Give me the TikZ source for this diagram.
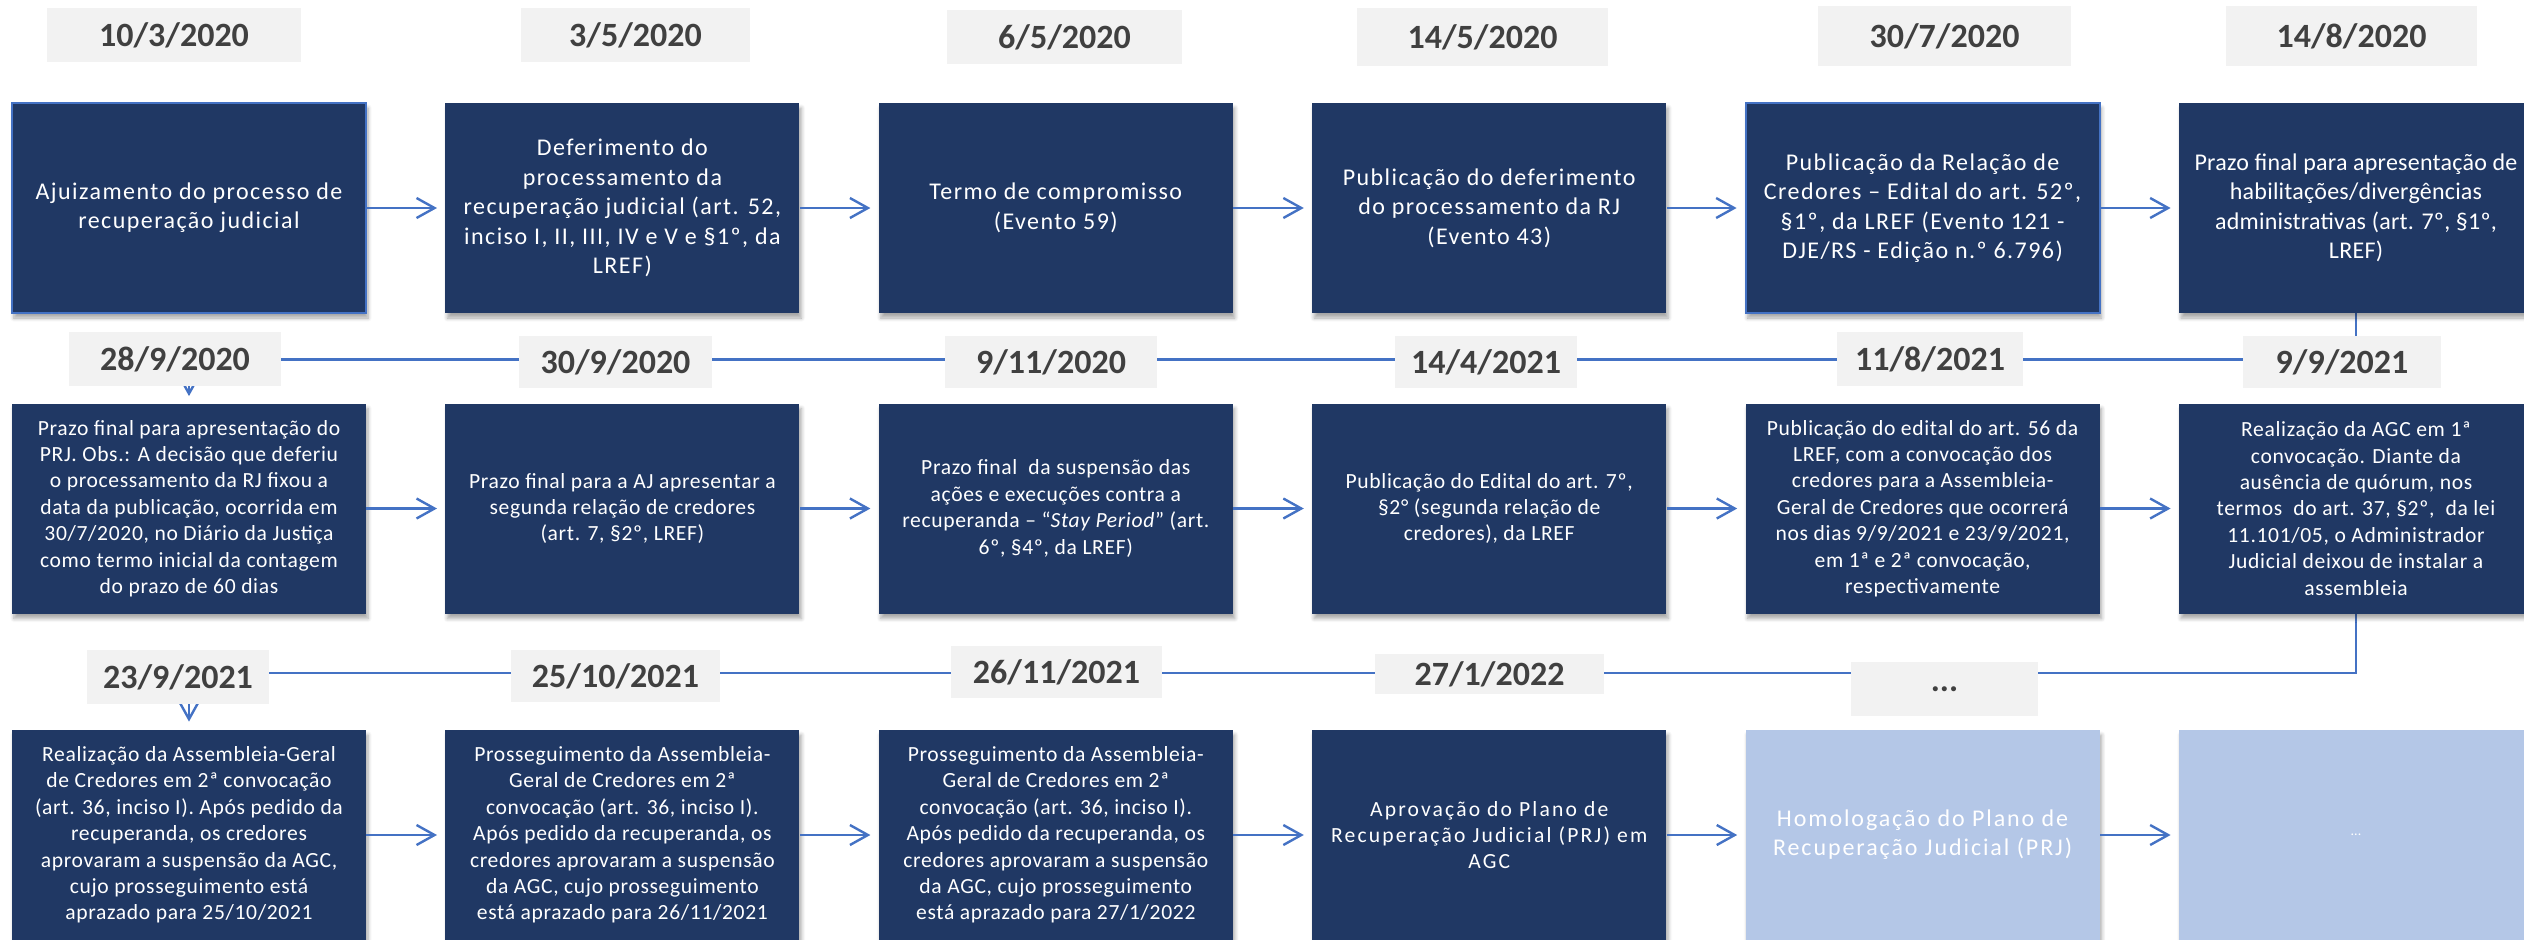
\documentclass[tikz,border=0pt]{standalone}
\usepackage{fontspec}
\setmainfont{Carlito}
\usetikzlibrary{arrows.meta,positioning,calc,backgrounds,shadows.blur}
\definecolor{marinho}{HTML}{203864}
\definecolor{celeste}{HTML}{B4C7E7}
\definecolor{cinza}{HTML}{F2F2F2}
\definecolor{grafite}{HTML}{404040}
\definecolor{azul}{HTML}{4472C4}
\newcommand{\textoetapa}{\fontsize{10.8pt}{13.2pt}\selectfont\addfontfeatures{LetterSpace=3}}
\newcommand{\textotopo}{\fontsize{12pt}{14.7pt}\selectfont\addfontfeatures{LetterSpace=6}}
\tikzset{
	etapa/.style={rectangle, fill=marinho, text=white, align=center, inner sep=0pt,
		minimum width=177pt, minimum height=105pt, font=\textoetapa,
		blur shadow={shadow xshift=1pt, shadow yshift=-2.5pt, shadow opacity=35, shadow blur steps=6}},
	topo/.style={etapa, font=\textotopo},
	futura/.style={etapa, fill=celeste},
	borda/.style={draw=azul, line width=1pt},
	data/.style={rectangle, fill=cinza, text=grafite, inner sep=0pt, minimum height=27pt,
		font=\fontsize{17pt}{20pt}\selectfont\bfseries},
	fluxo/.style={draw=azul, line width=1.2pt, shorten >=4pt,
		-{Straight Barb[length=9pt,width=10pt,line width=1.2pt]}},
}
\begin{document}
\begin{tikzpicture}[x=0.5pt, y=-0.5pt]
		\useasboundingbox (0,0) rectangle (2524,939);
		% datas
		\node[data, minimum width=127pt] (t1) at (174,35) {10/3/2020};
		\node[data, minimum width=114.5pt] (t2) at (635.5,35) {3/5/2020};
		\node[data, minimum width=117.5pt] (t3) at (1064.5,37) {6/5/2020};
		\node[data, minimum width=125.5pt, minimum height=29pt] (t4) at (1482.5,37) {14/5/2020};
		\node[data, minimum width=126.5pt, minimum height=30pt] (t5) at (1944.5,36) {30/7/2020};
		\node[data, minimum width=125.5pt, minimum height=30pt] (t6) at (2351.5,36) {14/8/2020};
		\node[data, minimum width=106pt] (u1) at (175,359) {28/9/2020};
		\node[data, minimum width=96.5pt, minimum height=26pt] (u2) at (615.5,362) {30/9/2020};
		\node[data, minimum width=106pt, minimum height=26pt] (u3) at (1051,362) {9/11/2020};
		\node[data, minimum width=91pt, minimum height=26pt] (u4) at (1486,362) {14/4/2021};
		\node[data, minimum width=93pt] (u5) at (1930,359) {11/8/2021};
		\node[data, minimum width=99pt, minimum height=26pt] (u6) at (2342,362) {9/9/2021};
		\node[data, minimum width=91pt] (v1) at (178,677) {23/9/2021};
		\node[data, minimum width=104.5pt, minimum height=26pt] (v2) at (615.5,676) {25/10/2021};
		\node[data, minimum width=105.5pt, minimum height=26pt] (v3) at (1056.5,672) {26/11/2021};
		\node[data, minimum width=114.5pt, minimum height=20pt] (v4) at (1489.5,674) {27/1/2022};
		\node[data, minimum width=93.5pt] (v5) at (1944.5,689) {...};
		% etapas
		\node[topo, borda] (a1) at (189,208) {Ajuizamento do processo de\\recuperação judicial};
		\node[topo] (a2) at (622.4,208) {Deferimento do\\processamento da\\recuperação judicial (art. 52,\\inciso I, II, III, IV e V e §1º, da\\LREF)};
		\node[topo] (a3) at (1055.8,208) {Termo de compromisso\\(Evento 59)};
		\node[topo] (a4) at (1489.2,208) {Publicação do deferimento\\do processamento da RJ\\(Evento 43)};
		\node[topo, borda] (a5) at (1922.6,208) {Publicação da Relação de\\Credores – Edital do art. 52º,\\§1º, da LREF (Evento 121 -\\DJE/RS - Edição n.º 6.796)};
		\node[topo, font=\fontsize{12pt}{14.7pt}\selectfont\addfontfeatures{LetterSpace=1}] (a6) at (2356,208) {Prazo final para apresentação de\\habilitações/divergências\\administrativas (art. 7º, §1º,\\LREF)};
		\node[etapa] (b1) at (189,508.5) {Prazo final para apresentação do\\PRJ. Obs.: A decisão que deferiu\\o processamento da RJ fixou a\\data da publicação, ocorrida em\\30/7/2020, no Diário da Justiça\\como termo inicial da contagem\\do prazo de 60 dias};
		\node[etapa] (b2) at (622.4,508.5) {Prazo final para a AJ apresentar a\\segunda relação de credores\\(art. 7, §2º, LREF)};
		\node[etapa] (b3) at (1055.8,508.5) {Prazo final~~da suspensão das\\ações e execuções contra a\\recuperanda – “\textit{Stay Period}” (art.\\6º, §4º, da LREF)};
		\node[etapa] (b4) at (1489.2,508.5) {Publicação do Edital do art. 7º,\\§2° (segunda relação de\\credores), da LREF};
		\node[etapa] (b5) at (1922.6,508.5) {Publicação do edital do art. 56 da\\LREF, com a convocação dos\\credores para a Assembleia-\\Geral de Credores que ocorrerá\\nos dias 9/9/2021 e 23/9/2021,\\em 1ª e 2ª convocação,\\respectivamente};
		\node[etapa] (b6) at (2356,508.5) {Realização da AGC em 1ª\\convocação. Diante da\\ausência de quórum, nos\\termos~~do art. 37, §2º,~~da lei\\11.101/05, o Administrador\\Judicial deixou de instalar a\\assembleia};
		\node[etapa] (c1) at (189,835) {Realização da Assembleia-Geral\\de Credores em 2ª convocação\\(art. 36, inciso I). Após pedido da\\recuperanda, os credores\\aprovaram a suspensão da AGC,\\cujo prosseguimento está\\aprazado para 25/10/2021};
		\node[etapa] (c2) at (622.4,835) {Prosseguimento da Assembleia-\\Geral de Credores em 2ª\\convocação (art. 36, inciso I).\\Após pedido da recuperanda, os\\credores aprovaram a suspensão\\da AGC, cujo prosseguimento\\está aprazado para 26/11/2021};
		\node[etapa] (c3) at (1055.8,835) {Prosseguimento da Assembleia-\\Geral de Credores em 2ª\\convocação (art. 36, inciso I).\\Após pedido da recuperanda, os\\credores aprovaram a suspensão\\da AGC, cujo prosseguimento\\está aprazado para 27/1/2022};
		\node[etapa, font=\fontsize{10.8pt}{13pt}\selectfont\addfontfeatures{LetterSpace=10}] (c4) at (1489.2,835) {Aprovação do Plano de\\Recuperação Judicial (PRJ) em\\AGC};
		\node[futura, font=\fontsize{12pt}{14.6pt}\selectfont\addfontfeatures{LetterSpace=8}] (c5) at (1922.6,835) {Homologação do Plano de\\Recuperação Judicial (PRJ)};
		\node[futura, font=\fontsize{7pt}{8pt}\selectfont] (c6) at (2356,835) {...};
		% ligacoes
		\draw[fluxo] (a1) -- (a2);
		\draw[fluxo] (a2) -- (a3);
		\draw[fluxo] (a3) -- (a4);
		\draw[fluxo] (a4) -- (a5);
		\draw[fluxo] (a5) -- (a6);
		\draw[fluxo] (b1) -- (b2);
		\draw[fluxo] (b2) -- (b3);
		\draw[fluxo] (b3) -- (b4);
		\draw[fluxo] (b4) -- (b5);
		\draw[fluxo] (b5) -- (b6);
		\draw[fluxo] (c1) -- (c2);
		\draw[fluxo] (c2) -- (c3);
		\draw[fluxo] (c3) -- (c4);
		\draw[fluxo] (c4) -- (c5);
		\draw[fluxo] (c5) -- (c6);
		\begin{scope}[on background layer]
			\draw[fluxo, shorten >=3.5pt] (a6.south) -- ++(0,46) -| (b1.north);
			\draw[fluxo, shorten >=4pt] (b6.south) -- ++(0,59) -| (c1.north);
		\end{scope}
	\end{tikzpicture}
\end{document}
